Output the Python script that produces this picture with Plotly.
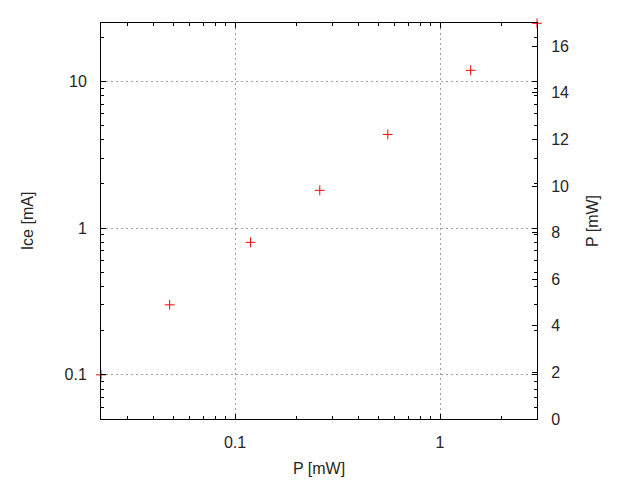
import numpy as np
import plotly.graph_objects as go

# data
p_mw = [0.0222, 0.048, 0.119, 0.259, 0.556, 1.41, 2.97]
ice_ma = [0.1, 0.30, 0.80, 1.81, 4.35, 11.9, 24.9]

x_major = [0.1, 1]
x_major_text = ["0.1", "1"]
y_major = [0.1, 1, 10]
y_major_text = ["0.1", "1", "10"]
y2_major = list(range(0, 17, 2))

x_minor = [m * 10.0 ** e for e in (-2, -1, 0) for m in range(2, 10)]
y_minor = [m * 10.0 ** e for e in (-2, -1, 0, 1) for m in range(2, 10)]

x_range = [0.0222, 2.97]
y_range = [0.05, 25]
y2_range = [0, 17]

FONT = dict(family="Liberation Sans, Arial, sans-serif", size=16, color="#262626")

fig = go.Figure()
fig.add_trace(go.Scatter(
    x=p_mw, y=ice_ma, mode="markers",
    marker=dict(symbol="cross-thin", size=7, line=dict(color="#ff0000", width=1)),
    cliponaxis=False, showlegend=False, hoverinfo="x+y",
))
fig.add_trace(go.Scatter(x=[None], y=[None], yaxis="y2", showlegend=False, mode="markers"))

common = dict(
    showline=True, linecolor="black", linewidth=1,
    ticks="inside", ticklen=5, tickcolor="black", tickwidth=1,
    zeroline=False, tickfont=FONT,
)

GRID = dict(showgrid=True, gridcolor="#a0a0a0", griddash="2px,3px", gridwidth=1)

fig.update_layout(
    width=640, height=480,
    margin=dict(l=101, r=103, t=23, b=61, autoexpand=False),
    paper_bgcolor="white", plot_bgcolor="white",
    font=FONT,
    xaxis=dict(
        type="log", range=[np.log10(x_range[0]), np.log10(x_range[1])],
        tickmode="array", tickvals=x_major, ticktext=x_major_text,
        mirror="ticks",
        minor=dict(tickmode="array", tickvals=x_minor, ticks="inside", ticklen=3,
                   tickcolor="black", showgrid=False),
        title=dict(text="P [mW]", font=FONT, standoff=12),
        ticklabelstandoff=9,
        **GRID,
        **common,
    ),
    yaxis=dict(
        type="log", range=[np.log10(y_range[0]), np.log10(y_range[1])],
        tickmode="array", tickvals=y_major, ticktext=y_major_text,
        mirror="ticks",
        minor=dict(tickmode="array", tickvals=y_minor, ticks="inside", ticklen=3,
                   tickcolor="black", showgrid=False),
        title=dict(text="Ice [mA]", font=FONT, standoff=26),
        ticklabelstandoff=10,
        **GRID,
        **common,
    ),
    yaxis2=dict(
        overlaying="y", side="right", range=y2_range,
        tickmode="array", tickvals=y2_major,
        showgrid=False,
        title=dict(text="P [mW]", font=FONT, standoff=18),
        ticklabelstandoff=10,
        **common,
    ),
)

fig.write_html("out.html", config={"displayModeBar": False},
               post_script="document.body.style.margin='0px';")
